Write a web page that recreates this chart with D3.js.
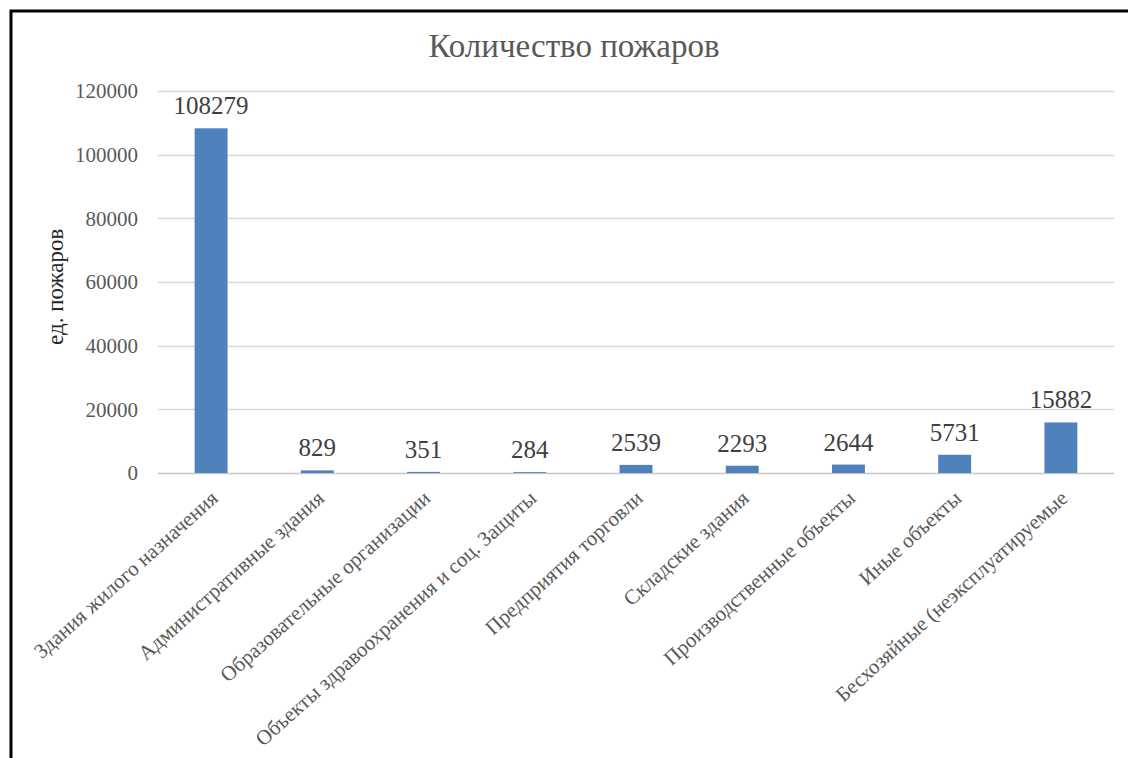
<!DOCTYPE html>
<html>
<head>
<meta charset="utf-8">
<script src="https://cdn.jsdelivr.net/npm/d3@7"></script>
<style>
  body { margin: 0; background: #fff; }
  svg text { font-family: "Liberation Serif", "Times New Roman", serif; }
</style>
</head>
<body>
<div id="chart"></div>
<script>
// data
var categories = [
    "Здания жилого назначения",
    "Административные здания",
    "Образовательные организации",
    "Объекты здравоохранения и соц. Защиты",
    "Предприятия торговли",
    "Складские здания",
    "Производственные объекты",
    "Иные объекты",
    "Бесхозяйные (неэксплуатируемые"
];
var fires = [108279, 829, 351, 284, 2539, 2293, 2644, 5731, 15882];
var yTicks = [0, 20000, 40000, 60000, 80000, 100000, 120000];

var W = 1128, H = 758;
var margin = { left: 158, right: 14, top: 91, bottom: 285 };
var width = W - margin.left - margin.right,
    height = H - margin.top - margin.bottom;

var svg = d3.select("#chart")
    .append("svg")
        .attr("width", W)
        .attr("height", H);

// frame (only left/top edges visible in the crop)
svg.append("path")
    .attr("d", "M11,758 L11,11 L1128,11")
    .attr("fill", "none")
    .attr("stroke", "#000")
    .attr("stroke-width", 3);

svg.append("text")
    .attr("x", 574)
    .attr("y", 57)
    .attr("text-anchor", "middle")
    .attr("font-size", "33px")
    .style("fill", "#595959")
    .text("Количество пожаров");

var g = svg.append("g")
    .attr("transform", "translate(" + margin.left + "," + margin.top + ")");

var x = d3.scaleBand()
    .domain(categories)
    .range([0, width])
    .paddingInner(0.69)
    .paddingOuter(0.345);

var y = d3.scaleLinear()
    .domain([0, 120000])
    .range([height, 0]);

// gridlines
g.append("g")
    .selectAll("line")
    .data(yTicks)
    .enter()
    .append("line")
        .attr("x1", 0)
        .attr("x2", width)
        .attr("y1", function(d){ return Math.round(y(d)) + 0.5; })
        .attr("y2", function(d){ return Math.round(y(d)) + 0.5; })
        .attr("stroke", function(d){ return d === 0 ? "#c8c8c8" : "#d9d9d9"; })
        .attr("stroke-width", 1.5);

var yAxis = g.append("g")
    .call(d3.axisLeft(y).tickValues(yTicks).tickSize(0).tickPadding(20).tickFormat(d3.format("d")));
yAxis.select(".domain").remove();
yAxis.selectAll("text")
    .attr("font-size", "21px")
    .style("fill", "#595959");

g.append("text")
    .attr("transform", "rotate(-90)")
    .attr("x", -(y(58500)))
    .attr("y", -95)
    .attr("text-anchor", "middle")
    .attr("font-size", "23px")
    .style("fill", "#262626")
    .text("ед. пожаров");

// bars
g.append("g")
    .selectAll("rect")
    .data(fires)
    .enter()
    .append("rect")
        .attr("x", function(d, i){ return x(categories[i]); })
        .attr("y", function(d){ return y(d); })
        .attr("width", x.bandwidth())
        .attr("height", function(d){ return height - y(d); })
        .attr("fill", "#4f81bd");

// value labels
g.append("g")
    .selectAll("text")
    .data(fires)
    .enter()
    .append("text")
        .attr("x", function(d, i){ return x(categories[i]) + x.bandwidth() / 2; })
        .attr("y", function(d){ return y(d) - 14; })
        .attr("text-anchor", "middle")
        .attr("font-size", "25px")
        .style("fill", "#404040")
        .text(function(d){ return d; });

// category labels, rotated
var xAxis = g.append("g")
    .attr("transform", "translate(0," + height + ")")
    .call(d3.axisBottom(x).tickSize(0).tickPadding(0));
xAxis.select(".domain").remove();
xAxis.selectAll("text")
    .attr("font-size", "21px")
    .style("fill", "#595959")
    .style("text-anchor", "end")
    .attr("x", 0)
    .attr("y", 0)
    .attr("dy", "0")
    .attr("transform", "translate(8,27) rotate(-42)");
</script>
</body>
</html>
